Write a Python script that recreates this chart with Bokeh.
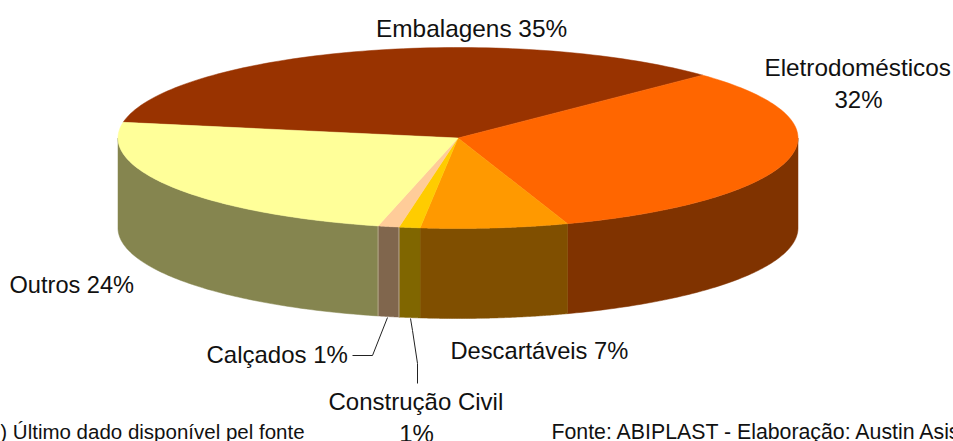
import numpy as np
from bokeh.plotting import figure
from bokeh.models import Range1d
from bokeh.core.properties import value
from bokeh.embed import file_html
from bokeh.resources import INLINE

categories = ["Embalagens", "Eletrodomésticos", "Descartáveis", "Construção Civil", "Calçados", "Outros"]
shares = [35, 32, 7, 1, 1, 24]
top_colors = ["#993300", "#FF6600", "#FF9900", "#FFCC00", "#FFCC99", "#FFFF99"]
side_colors = ["#803300", "#803300", "#804F00", "#806600", "#80664D", "#85854F"]

CX, CY, RX, RY, DEPTH = 457.5, 137.5, 340.0, 90.5, 90.0
START = 170.0
FONT = "Liberation Sans"

W, H = 953, 441
p = figure(width=W, height=H, x_range=Range1d(0, W), y_range=Range1d(H, 0),
           output_backend="svg", toolbar_location=None, min_border=0,
           margin=(0, 0, 0, 0))
p.axis.visible = False
p.grid.visible = False
p.outline_line_color = None


def arc(a0, a1, n=90, dy=0.0):
    t = np.radians(np.linspace(a0, a1, n))
    return CX + RX * np.cos(t), CY + dy - RY * np.sin(t)


# boundaries of the slices, clockwise from START
bounds = START - np.cumsum([0] + shares) * 3.6

# side walls (front half only: angles -180..0)
for i in range(len(shares)):
    a0, a1 = bounds[i], bounds[i + 1]
    lo, hi = max(a1, -180.0), min(a0, 0.0)
    if hi <= lo:
        continue
    xt, yt = arc(hi, lo)
    xb, yb = arc(lo, hi, dy=DEPTH)
    p.patch(np.r_[xt, xb], np.r_[yt, yb], fill_color=side_colors[i], line_color=side_colors[i], line_width=0.5)

# light seams around the small slice's wall
for a in (bounds[4], bounds[5]):
    x, y = arc(a, a, n=2)
    p.line([x[0], x[0]], [y[0], y[0] + DEPTH], line_color="#B8A88C", line_width=1)

# top face
for i in range(len(shares)):
    x, y = arc(bounds[i], bounds[i + 1])
    p.patch(np.r_[CX, x], np.r_[CY, y], fill_color=top_colors[i], line_color=top_colors[i], line_width=0.5)

# leader lines
p.line([352, 372, 387], [355, 355, 317], line_color="#222222", line_width=1)
p.line([410, 412, 417, 417], [318, 330, 363, 383], line_color="#222222", line_width=1)


def label(x, y, s, size=24.0, align="left"):
    p.text([x], [y], text=[s], text_font=value(FONT), text_font_size=f"{size}px",
           text_align=align, text_baseline="alphabetic", text_color="#111111")


label(375.5, 28, f"{categories[0]} {shares[0]}%", size=24.4)
label(764, 67, categories[1], size=24.3)
label(858, 99, f"{shares[1]}%", align="center")
label(9, 284, f"{categories[5]} {shares[5]}%", size=23.6)
label(206, 354, f"{categories[4]} {shares[4]}%")
label(450, 350, f"{categories[2]} {shares[2]}%", size=23.7)
label(328, 401, categories[3])
label(416, 433, f"{shares[3]}%", align="center")
label(-15, 431, "(*) Último dado disponível pel fonte", size=20.5)
label(551, 431, "Fonte: ABIPLAST - Elaboração: Austin Asis", size=21.3)

open("out.html", "w").write(file_html(p, INLINE))
